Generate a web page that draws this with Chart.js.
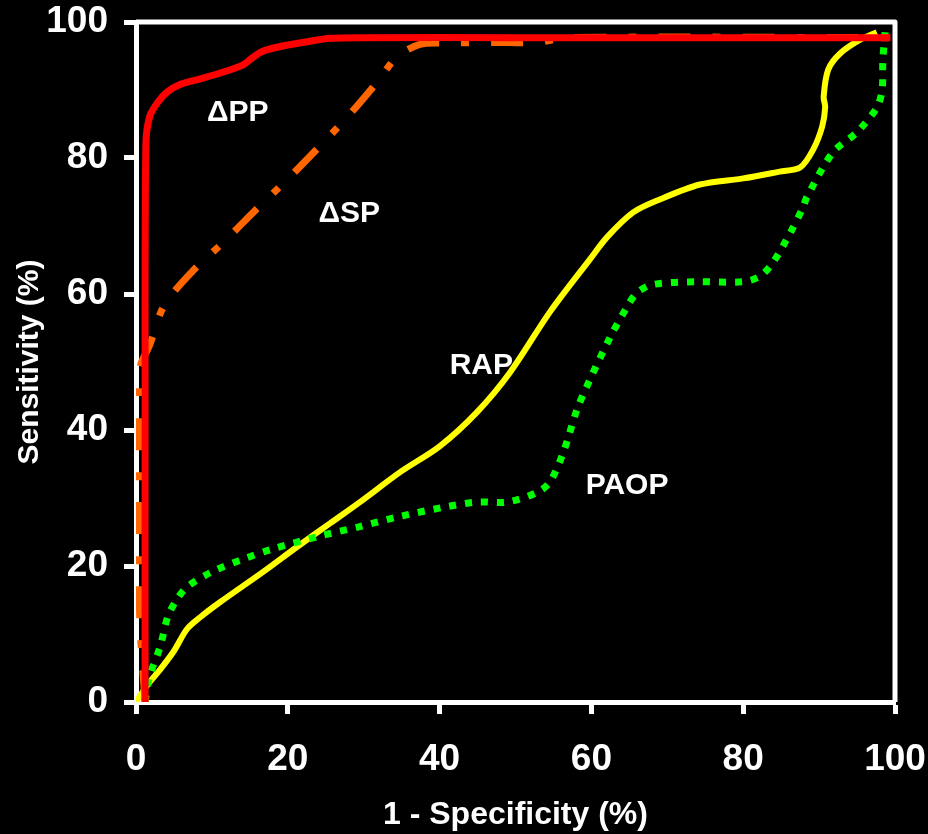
<!DOCTYPE html>
<html>
<head>
<meta charset="utf-8">
<script src="https://cdn.jsdelivr.net/npm/chart.js@4/dist/chart.umd.min.js"></script>
<style>
  html, body { margin: 0; padding: 0; background: #000; }
  #wrap { width: 928px; height: 834px; }
</style>
</head>
<body>
<div id="wrap"><canvas id="rocChart" width="928" height="834"></canvas></div>
<script>
// ROC curves, values (1 - specificity %, sensitivity %)
const ppX = [1.2, 1.2, 1.3, 1.8, 2.8, 4.1, 5.8, 8.0, 11.1, 14.1, 15.4, 16.7, 19.0, 22.5, 25.6, 30, 50, 75, 99.4];
const ppY = [0, 40, 82, 86.1, 88.1, 89.7, 90.8, 91.5, 92.5, 93.7, 94.8, 95.7, 96.4, 97.1, 97.6, 97.7, 97.7, 97.7, 97.7];

const spX = [1.2, 0.5, 0.4, 0.4, 0.6, 1.8, 3.7, 7.4, 11.6, 15.8, 19.9, 24.0, 27.9, 31.8, 34.4, 37.4, 40.7, 47.2, 52.8, 57, 99.4];
const spY = [0, 12, 30, 46, 49.5, 52.5, 58.3, 63.3, 67.7, 72.4, 76.8, 81.5, 86.1, 91.2, 94.9, 96.7, 96.9, 97.0, 97.0, 97.7, 97.7];

const rapX = [0, 1.5, 3.2, 5.0, 6.7, 8.5, 11.1, 16.7, 21.2, 25.6, 29.5, 34.8, 40.0, 44.9, 49.3, 54.5, 59.8, 62.1, 65.5, 69.0, 74.3, 80, 84.8, 87.5, 89.2, 90.4, 90.8, 90.6, 91.2, 92.8, 95.4, 97.6];
const rapY = [0, 2.5, 4.8, 7.5, 10.7, 12.5, 14.7, 19.1, 22.8, 26.3, 29.4, 33.8, 37.6, 42.6, 48.5, 57.3, 65.1, 68.4, 72.0, 73.9, 76.1, 77.0, 78.0, 78.6, 81.2, 84.6, 87.5, 89.0, 93.0, 95.4, 97.4, 98.5];

const paopX = [1.2, 1.8, 3.2, 4.2, 5.4, 6.7, 10.1, 14.1, 18.0, 24.2, 29.5, 34.8, 40.4, 44.9, 48.9, 52.8, 54.5, 56.3, 58.1, 59.8, 62.5, 64.7, 66.0, 68.1, 73.9, 80.0, 82.2, 83.9, 86.2, 87.9, 88.4, 91.8, 95.0, 97.6, 98.3, 98.4, 98.7];
const paopY = [0, 3.8, 8.2, 12.6, 15.1, 16.9, 19.2, 21.0, 22.5, 24.4, 25.8, 27.3, 28.6, 29.4, 29.4, 30.8, 32.3, 36.7, 43.0, 47.4, 53.7, 58.1, 60.2, 61.4, 61.8, 61.8, 62.6, 64.6, 69.0, 72.8, 74.3, 80.8, 83.8, 87.4, 90.0, 94.4, 98.5];

const xTicks = [0, 20, 40, 60, 80, 100];
const yTicks = [0, 20, 40, 60, 80, 100];

// curve names written inside the plot, anchored in data units
const noteText = ['\u0394PP', '\u0394SP', 'RAP', 'PAOP'];
const noteX = [13.4, 28.1, 45.5, 64.7];
const noteY = [86.7, 71.8, 49.4, 31.8];

function toPoints(xs, ys) {
    return xs.map((x, i) => ({ x: x, y: ys[i] }));
}

const tickFont = { family: "'Liberation Sans', Arial, sans-serif", size: 37, weight: 'bold', lineHeight: 1 };
const titleFont = { family: "'Liberation Sans', Arial, sans-serif", weight: 'bold' };

// keep chart area where the picture has it; labels may overhang
function noScalePadding(s) {
    s.paddingTop = 0;
    s.paddingBottom = 0;
    s.paddingLeft = 0;
    s.paddingRight = 0;
}

const frameAndNotes = {
    id: 'frameAndNotes',
    beforeDatasetsDraw(chart) {
        const { ctx, chartArea } = chart;
        ctx.save();
        ctx.strokeStyle = '#fff';
        ctx.lineWidth = 5;
        ctx.lineJoin = 'round';
        ctx.beginPath();
        ctx.moveTo(chartArea.left, chartArea.top);
        ctx.lineTo(chartArea.right, chartArea.top);
        ctx.lineTo(chartArea.right, chartArea.bottom);
        ctx.stroke();
        ctx.restore();
    },
    afterDatasetsDraw(chart) {
        const { ctx, scales } = chart;
        ctx.save();
        ctx.fillStyle = '#fff';
        ctx.font = "bold 30px 'Liberation Sans', Arial, sans-serif";
        ctx.textAlign = 'center';
        ctx.textBaseline = 'middle';
        noteText.forEach((t, i) => {
            ctx.fillText(t, scales.x.getPixelForValue(noteX[i]), scales.y.getPixelForValue(noteY[i]));
        });
        ctx.restore();
    }
};

const axisGrid = {
    drawOnChartArea: false,
    drawTicks: true,
    tickLength: 12,
    tickWidth: 5,
    tickColor: '#fff'
};

new Chart(document.getElementById('rocChart').getContext('2d'), {
    type: 'scatter',
    data: {
        datasets: [
            { label: '\u0394PP', data: toPoints(ppX, ppY), borderColor: '#ff0000', borderWidth: 7 },
            { label: '\u0394SP', data: toPoints(spX, spY), borderColor: '#ff6600', borderWidth: 7, borderDash: [32, 22, 8, 22] },
            { label: 'PAOP', data: toPoints(paopX, paopY), borderColor: '#00ff00', borderWidth: 7, borderDash: [7, 9] },
            { label: 'RAP', data: toPoints(rapX, rapY), borderColor: '#ffff00', borderWidth: 6 }
        ]
    },
    options: {
        responsive: false,
        animation: false,
        devicePixelRatio: 1,
        showLine: true,
        layout: { padding: { top: 22, right: 33, left: 0, bottom: 0 } },
        elements: {
            point: { radius: 0, hoverRadius: 0 },
            line: { tension: 0.3, fill: false, borderCapStyle: 'butt', borderJoinStyle: 'round' }
        },
        plugins: { legend: { display: false }, tooltip: { enabled: false } },
        scales: {
            x: {
                type: 'linear', min: 0, max: 100,
                afterBuildTicks: s => { s.ticks = xTicks.map(v => ({ value: v })); },
                afterFit: s => { s.height = 132; noScalePadding(s); },
                ticks: { color: '#fff', font: tickFont, padding: 27, maxRotation: 0 },
                grid: axisGrid,
                border: { display: true, color: '#fff', width: 5 },
                title: { display: true, text: '1 - Specificity (%)', color: '#fff', font: Object.assign({ size: 32 }, titleFont), padding: 0 }
            },
            y: {
                type: 'linear', min: 0, max: 100,
                afterBuildTicks: s => { s.ticks = yTicks.map(v => ({ value: v })); },
                afterFit: s => { s.width = 136; noScalePadding(s); },
                ticks: { color: '#fff', font: tickFont, padding: 16 },
                grid: axisGrid,
                border: { display: true, color: '#fff', width: 5 },
                title: { display: true, text: 'Sensitivity (%)', color: '#fff', font: Object.assign({ size: 30 }, titleFont), padding: { top: 12, bottom: 0 } }
            }
        }
    },
    plugins: [frameAndNotes]
});
</script>
</body>
</html>
